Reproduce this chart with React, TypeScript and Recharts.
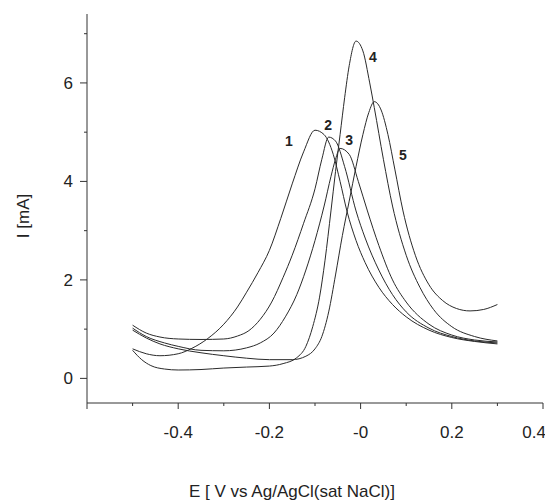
import React from "react";
import { ComposedChart, Line, Scatter, XAxis, YAxis, Label } from "recharts";

// potential (V) / current (mA) pairs
const curve1: [number, number][] = [
  [-0.5, 0.6], [-0.47, 0.5], [-0.44, 0.46], [-0.4, 0.5], [-0.37, 0.61], [-0.335, 0.81], [-0.3, 1.1],
  [-0.27, 1.45], [-0.25, 1.75], [-0.225, 2.15], [-0.2, 2.6], [-0.175, 3.25], [-0.15, 3.95], [-0.125, 4.6],
  [-0.1, 5.04], [-0.08, 4.95], [-0.06, 4.55], [-0.045, 4.0], [-0.03, 3.4], [-0.01, 2.8], [0.01, 2.35],
  [0.04, 1.85], [0.07, 1.5], [0.1, 1.25], [0.15, 0.98], [0.2, 0.83], [0.25, 0.75], [0.3, 0.7],
];
const curve2: [number, number][] = [
  [-0.5, 1.08], [-0.47, 0.92], [-0.44, 0.84], [-0.4, 0.8], [-0.35, 0.79], [-0.3, 0.8], [-0.27, 0.86],
  [-0.245, 0.97], [-0.22, 1.2], [-0.195, 1.55], [-0.17, 2.05], [-0.15, 2.5], [-0.125, 3.15], [-0.1, 3.85],
  [-0.085, 4.45], [-0.07, 4.9], [-0.055, 4.82], [-0.035, 4.3], [-0.01, 3.4], [0.01, 2.85], [0.04, 2.2],
  [0.07, 1.7], [0.1, 1.35], [0.15, 1.02], [0.2, 0.85], [0.25, 0.76], [0.3, 0.72],
];
const curve3: [number, number][] = [
  [-0.5, 1.02], [-0.47, 0.85], [-0.43, 0.72], [-0.4, 0.65], [-0.35, 0.57], [-0.3, 0.56], [-0.25, 0.62],
  [-0.22, 0.72], [-0.19, 0.92], [-0.165, 1.25], [-0.14, 1.7], [-0.12, 2.2], [-0.1, 2.8], [-0.08, 3.5],
  [-0.065, 4.1], [-0.055, 4.45], [-0.045, 4.67], [-0.025, 4.55], [-0.005, 4.0], [0.015, 3.4], [0.04, 2.7],
  [0.07, 2.0], [0.1, 1.55], [0.15, 1.1], [0.2, 0.88], [0.25, 0.78], [0.3, 0.74],
];
const curve4: [number, number][] = [
  [-0.5, 0.57], [-0.48, 0.38], [-0.46, 0.26], [-0.43, 0.19], [-0.4, 0.17], [-0.35, 0.18], [-0.3, 0.21],
  [-0.25, 0.23], [-0.2, 0.25], [-0.17, 0.3], [-0.14, 0.42], [-0.12, 0.65], [-0.105, 1.05], [-0.09, 1.65],
  [-0.078, 2.4], [-0.065, 3.4], [-0.055, 4.2], [-0.045, 4.95], [-0.035, 5.7], [-0.025, 6.35], [-0.01, 6.85],
  [0.005, 6.65], [0.02, 6.0], [0.03, 5.5], [0.05, 4.45], [0.07, 3.5], [0.1, 2.5], [0.13, 1.85],
  [0.16, 1.4], [0.2, 1.05], [0.25, 0.85], [0.3, 0.76],
];
const curve5: [number, number][] = [
  [-0.5, 0.98], [-0.47, 0.82], [-0.44, 0.7], [-0.4, 0.6], [-0.35, 0.52], [-0.3, 0.46], [-0.25, 0.41],
  [-0.2, 0.38], [-0.15, 0.38], [-0.12, 0.45], [-0.1, 0.6], [-0.085, 0.85], [-0.07, 1.35], [-0.055, 2.1],
  [-0.04, 2.9], [-0.025, 3.6], [-0.01, 4.3], [0.005, 4.95], [0.018, 5.4], [0.03, 5.62], [0.045, 5.45],
  [0.06, 4.95], [0.075, 4.25], [0.093, 3.4], [0.12, 2.5], [0.15, 1.9], [0.18, 1.58], [0.21, 1.42],
  [0.24, 1.37], [0.27, 1.4], [0.3, 1.5],
];

const curves = [curve1, curve2, curve3, curve4, curve5];

// curve numbers written next to the peaks
const curveNames = ["1", "2", "3", "4", "5"];
const labelE = [-0.157, -0.071, -0.025, 0.027, 0.093];
const labelI = [4.82, 5.14, 4.84, 6.52, 4.53];

const xTicks = [-0.6, -0.5, -0.4, -0.3, -0.2, -0.1, 0, 0.1, 0.2, 0.3, 0.4];
const xTickLabels = ["", "", "-0.4", "", "-0.2", "", "-0", "", "0.2", "", "0.4"];
const yTicks = [0, 1, 2, 3, 4, 5, 6, 7];
const yTickLabels = ["0", "", "2", "", "4", "", "6", ""];

const FONT = "'Liberation Sans', Arial, sans-serif";
const AXIS = "#333";

const XTick = (props: any) => {
  const { x, y, payload } = props;
  const i = xTicks.findIndex((t) => Math.abs(t - payload.value) < 1e-9);
  const major = i % 2 === 0;
  const last = i === xTicks.length - 1;
  return (
    <g>
      <line x1={x} x2={x} y1={y} y2={y + (major ? 6 : 3)} stroke={AXIS} strokeWidth={1} />
      {xTickLabels[i] ? (
        <text
          x={last ? x + 3 : x}
          y={y + 35}
          textAnchor={last ? "end" : "middle"}
          fontSize={17}
          fontFamily={FONT}
          fill="#222"
        >
          {xTickLabels[i]}
        </text>
      ) : null}
    </g>
  );
};

const YTick = (props: any) => {
  const { x, y, payload } = props;
  const i = yTicks.findIndex((t) => Math.abs(t - payload.value) < 1e-9);
  const major = i % 2 === 0;
  return (
    <g>
      <line x1={x - (major ? 7 : 3)} x2={x} y1={y} y2={y} stroke={AXIS} strokeWidth={1} />
      {yTickLabels[i] ? (
        <text x={x - 14} y={y + 6} textAnchor="end" fontSize={17} fontFamily={FONT} fill="#222">
          {yTickLabels[i]}
        </text>
      ) : null}
    </g>
  );
};

export default function App() {
  const seriesData = curves.map((c) => c.map(([e, i]) => ({ x: e, y: i })));
  const labelData = curveNames.map((name, k) => ({ x: labelE[k], y: labelI[k], name }));

  return (
    <ComposedChart width={545} height={494} margin={{ top: 6, right: 10, bottom: 0, left: 0 }}>
      <XAxis
        type="number"
        dataKey="x"
        domain={[-0.6, 0.4]}
        ticks={xTicks}
        tick={<XTick />}
        tickLine={false}
        tickSize={0}
        tickMargin={0}
        height={99}
        stroke={AXIS}
        allowDataOverflow
      >
        <Label
          content={() => (
            <text x={284} y={489} textAnchor="middle" fontSize={17} fontFamily={FONT} fill="#222">
              E [ V vs Ag/AgCl(sat NaCl)]
            </text>
          )}
        />
      </XAxis>
      <YAxis
        type="number"
        dataKey="y"
        domain={[-0.5, 7.4]}
        ticks={yTicks}
        tick={<YTick />}
        tickLine={false}
        tickSize={0}
        tickMargin={0}
        width={79}
        stroke={AXIS}
        allowDataOverflow
      >
        <Label
          content={() => (
            <text
              x={21}
              y={208}
              transform="rotate(-90 21 208)"
              textAnchor="middle"
              fontSize={17}
              fontFamily={FONT}
              fill="#222"
            >
              I [mA]
            </text>
          )}
        />
      </YAxis>
      {seriesData.map((d, k) => (
        <Line
          key={k}
          data={d}
          dataKey="y"
          type="monotone"
          stroke="#2a2a2a"
          strokeWidth={1}
          dot={false}
          isAnimationActive={false}
        />
      ))}
      <Scatter
        data={labelData}
        dataKey="y"
        isAnimationActive={false}
        shape={(p: any) => (
          <text
            x={p.cx}
            y={p.cy}
            textAnchor="middle"
            dominantBaseline="central"
            fontSize={14}
            fontWeight="bold"
            fontFamily={FONT}
            fill="#222"
          >
            {p.payload.name}
          </text>
        )}
      />
    </ComposedChart>
  );
}
